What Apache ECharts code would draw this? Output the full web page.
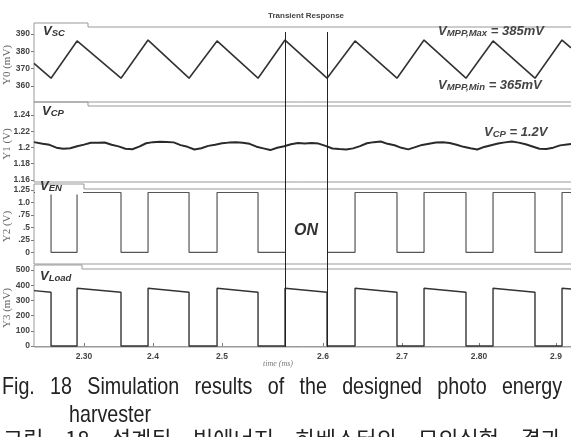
<!DOCTYPE html>
<html>
<head>
<meta charset="utf-8">
<title>Transient Response</title>
<script src="https://cdn.jsdelivr.net/npm/echarts@6/dist/echarts.min.js"></script>
<style>
body { margin: 0; background: #fff; }
#wrap { position: relative; width: 571px; height: 437px; overflow: hidden; background: #fff; }
#main { position: absolute; left: 0; top: 0; width: 571px; height: 437px; }
.cap { position: absolute; font-family: "Liberation Sans", Arial, sans-serif; font-size: 24px; line-height: 24px; color: #222; transform-origin: 0 0; }
</style>
</head>
<body>
<div id="wrap">
	<div id="main"></div>
	<div class="cap" style="left:2px; top:374px; width:683px; transform:scaleX(0.82); text-align:justify; text-align-last:justify;">Fig. 18 Simulation results of the designed photo energy</div>
	<div class="cap" style="left:69px; top:402px; transform:scaleX(0.82);">harvester</div>
	<div class="cap" style="left:3px; top:425px; width:558px; font-family:'Noto Sans CJK KR', sans-serif; font-size:22px; text-align:justify; text-align-last:justify;">그림 18 설계된 빛에너지 하베스터의 모의실험 결과</div>
</div>
<script type="text/javascript">
// 시간축 (ms)
var xMin = 2.2275, xMax = 3.0058;
var xTickPos = [2.30, 2.40, 2.50, 2.6464, 2.7609, 2.8725, 2.9841];
var xTickText = ['2.30', '2.4', '2.5', '2.6', '2.7', '2.80', '2.9'];

// 패널별 눈금
var y0Ticks = [360, 370, 380, 390];
var y0Text = ['360', '370', '380', '390'];
var y1Ticks = [1.16, 1.18, 1.2, 1.22, 1.24];
var y1Text = ['1.16', '1.18', '1.2', '1.22', '1.24'];
var y2Ticks = [0, 0.25, 0.5, 0.75, 1.0, 1.25];
var y2Text = ['0', '.25', '.5', '.75', '1.0', '1.25'];
var y3Ticks = [0, 100, 200, 300, 400, 500];
var y3Text = ['0', '100', '200', '300', '400', '500'];

// Vsc (mV)
var vscTime = [2.2275, 2.2522, 2.2899, 2.3536, 2.3928, 2.4522, 2.4928, 2.5522, 2.5913, 2.6522, 2.6928, 2.7536, 2.7928, 2.8536, 2.8928, 2.9536, 2.9928, 3.0058];
var vscMv = [373, 364.5, 386, 364.5, 386.5, 364.5, 386, 364.5, 386.5, 364.5, 386, 364.5, 386.5, 364.5, 386, 364.5, 386.5, 382];

// Vcp (V)
var vcpTime = [2.2275, 2.23, 2.24, 2.25, 2.26, 2.27, 2.28, 2.29, 2.30, 2.31, 2.32,
	2.33, 2.34, 2.35, 2.36, 2.37, 2.38, 2.39, 2.40, 2.41, 2.42,
	2.43, 2.44, 2.45, 2.46, 2.47, 2.48, 2.49, 2.50, 2.51, 2.52,
	2.53, 2.54, 2.55, 2.56, 2.57, 2.58, 2.59, 2.60, 2.61, 2.62,
	2.63, 2.64, 2.65, 2.66, 2.67, 2.68, 2.69, 2.70, 2.71, 2.72,
	2.73, 2.74, 2.75, 2.76, 2.77, 2.78, 2.79, 2.80, 2.81, 2.82,
	2.83, 2.84, 2.85, 2.86, 2.87, 2.88, 2.89, 2.90, 2.91, 2.92,
	2.93, 2.94, 2.95, 2.96, 2.97, 2.98, 2.99, 3.00, 3.0058];
var vcpV = [1.2066, 1.2063, 1.2046, 1.2033, 1.1998, 1.1984, 1.1991, 1.2015, 1.2035, 1.2058, 1.2057,
	1.2062, 1.2034, 1.2014, 1.1985, 1.1979, 1.2010, 1.2052, 1.2066, 1.2072, 1.2068,
	1.2063, 1.2029, 1.2008, 1.1976, 1.1990, 1.2020, 1.2035, 1.2051, 1.2060, 1.2066,
	1.2059, 1.2045, 1.2010, 1.1989, 1.1968, 1.1996, 1.2016, 1.2040, 1.2054, 1.2049,
	1.2055, 1.2048, 1.2020, 1.1988, 1.1980, 1.1976, 1.1989, 1.2017, 1.2052, 1.2066,
	1.2073, 1.2045, 1.2027, 1.1996, 1.1977, 1.2004, 1.2032, 1.2047, 1.2061, 1.2065,
	1.2056, 1.2034, 1.2008, 1.1990, 1.1975, 1.2007, 1.2028, 1.2049, 1.2063, 1.2073,
	1.2060, 1.2039, 1.2012, 1.1985, 1.1982, 1.1998, 1.2026, 1.2037, 1.2043];

// Ven (V) - '-' = 구간 비어 있음 (ON)
var venTime = [2.2275, 2.2522, 2.2522, 2.2899, 2.2899, 2.3536, 2.3536, 2.3928, 2.3928, 2.4522, 2.4522, 2.4928, 2.4928, 2.5522, 2.5522, 2.5913, 2.6200,
	2.6522, 2.6928, 2.6928, 2.7536, 2.7536, 2.7928, 2.7928, 2.8536, 2.8536, 2.8928, 2.8928, 2.9536, 2.9536, 2.9928, 2.9928, 3.0058];
var venV = [1.2, 1.2, 0, 0, 1.2, 1.2, 0, 0, 1.2, 1.2, 0, 0, 1.2, 1.2, 0, 0, '-',
	0, 0, 1.2, 1.2, 0, 0, 1.2, 1.2, 0, 0, 1.2, 1.2, 0, 0, 1.2, 1.2];

// Vload (mV)
var vloadTime = [2.2275, 2.2522, 2.2522, 2.2899, 2.2899, 2.3536, 2.3536, 2.3928, 2.3928, 2.4522, 2.4522, 2.4928, 2.4928, 2.5522, 2.5522, 2.5913, 2.5913,
	2.6522, 2.6522, 2.6928, 2.6928, 2.7536, 2.7536, 2.7928, 2.7928, 2.8536, 2.8536, 2.8928, 2.8928, 2.9536, 2.9536, 2.9928, 2.9928, 3.0058];
var vloadMv = [364, 354, 0, 0, 380, 354, 0, 0, 380, 354, 0, 0, 380, 354, 0, 0, 380,
	354, 0, 0, 380, 354, 0, 0, 380, 354, 0, 0, 380, 354, 0, 0, 380, 375];

// 커서 위치 (ms)
var cursorTime = [2.5913, 2.6522];

function pairs(t, v) {
	var out = [];
	for (var i = 0; i < t.length; i++) out.push([t[i], v[i]]);
	return out;
}
function lookup(ticks, texts) {
	return function (v) {
		for (var i = 0; i < ticks.length; i++) {
			if (Math.abs(ticks[i] - v) < 1e-6) return texts[i];
		}
		return '';
	};
}
var labelFont = { fontSize: 8.5, fontWeight: 'bold', color: '#444', fontFamily: 'Liberation Sans' };
function yAxisCfg(gi, min, max, ticks, texts, name) {
	return {
		type: 'value', gridIndex: gi, min: min, max: max,
		name: name, nameLocation: 'middle', nameGap: 21, nameRotate: 90, nameMoveOverlap: false,
		nameTextStyle: { fontFamily: 'Liberation Serif', fontSize: 11, color: '#666' },
		axisLine: { show: false }, splitLine: { show: false },
		axisTick: { show: true, customValues: ticks, length: 3, lineStyle: { color: '#777' } },
		axisLabel: Object.assign({ customValues: ticks, formatter: lookup(ticks, texts), margin: 4 }, labelFont)
	};
}
function xAxisCfg(gi, show) {
	return {
		type: 'value', gridIndex: gi, min: xMin, max: xMax, show: show,
		axisLine: { show: true, lineStyle: { color: '#999' } },
		splitLine: { show: false },
		axisTick: { show: true, inside: true, length: 3, customValues: xTickPos, lineStyle: { color: '#777' } },
		axisLabel: Object.assign({ customValues: xTickPos, formatter: lookup(xTickPos, xTickText), margin: 5 }, labelFont)
	};
}
function lineSeries(gi, data, color, width) {
	return {
		type: 'line', xAxisIndex: gi, yAxisIndex: gi, data: data,
		showSymbol: false, symbol: 'none', connectNulls: false,
		lineStyle: { color: color, width: width }
	};
}
function gridCfg(top, height) {
	return { left: 34, right: 0, top: top, height: height, containLabel: false, outerBoundsMode: 'none' };
}

var myChart = echarts.init(document.getElementById('main'));
myChart.setOption({
	animation: false,
	title: {
		text: 'Transient Response', left: 263, top: 7,
		textStyle: { fontSize: 8, fontWeight: 'bold', color: '#444', fontFamily: 'Liberation Sans' }
	},
	grid: [gridCfg(27, 76), gridCfg(106, 76), gridCfg(189, 75), gridCfg(269, 78)],
	xAxis: [xAxisCfg(0, false), xAxisCfg(1, false), xAxisCfg(2, false), xAxisCfg(3, true)],
	yAxis: [
		yAxisCfg(0, 350.19, 394.04, y0Ticks, y0Text, 'Y0 (mV)'),
		yAxisCfg(1, 1.1575, 1.2511, y1Ticks, y1Text, 'Y1 (V)'),
		yAxisCfg(2, -0.2348, 1.2701, y2Ticks, y2Text, 'Y2 (V)'),
		yAxisCfg(3, -6.6, 506.6, y3Ticks, y3Text, 'Y3 (mV)')
	],
	series: [
		lineSeries(0, pairs(vscTime, vscMv), '#333', 1.6),
		lineSeries(1, pairs(vcpTime, vcpV), '#2a2a2a', 2),
		lineSeries(2, pairs(venTime, venV), '#555', 1.2),
		lineSeries(3, pairs(vloadTime, vloadMv), '#333', 1.4)
	]
});

// 패널 테두리와 라벨
var panels = [
	{ tab: 23, top: 27, bottom: 102, tabRight: 88 },
	{ tab: 102, top: 106, bottom: 182, tabRight: 88 },
	{ tab: 184, top: 189, bottom: 264, tabRight: 84 },
	{ tab: 265, top: 269, bottom: 347, tabRight: 82 }
];
var graphics = [];
panels.forEach(function (p) {
	graphics.push({
		type: 'polyline', z: 1, silent: true,
		shape: { points: [[34, p.bottom], [34, p.tab], [p.tabRight, p.tab], [p.tabRight, p.top], [571, p.top]] },
		style: { stroke: '#999', lineWidth: 1, fill: null }
	});
	graphics.push({
		type: 'line', z: 1, silent: true,
		shape: { x1: 34, y1: p.bottom, x2: 571, y2: p.bottom },
		style: { stroke: '#999', lineWidth: 1 }
	});
});
// VEN 라벨 뒤 흰 바탕
graphics.push({ type: 'rect', z: 90, shape: { x: 35, y: 189.5, width: 48, height: 5 }, style: { fill: '#fff' } });

var big = { fontSize: 13, fontWeight: 'bold', fontStyle: 'italic', fontFamily: 'Liberation Sans', fill: '#333', verticalAlign: 'bottom' };
var sub = { fontSize: 9.5, fontWeight: 'bold', fontStyle: 'italic', fontFamily: 'Liberation Sans', fill: '#333', verticalAlign: 'bottom' };
var bigG = Object.assign({}, big, { fill: '#444' });
var subG = Object.assign({}, sub, { fill: '#444' });
function richLabel(x, y, text, rich) {
	return { type: 'text', z: 100, x: x, y: y, style: { text: text, rich: rich, align: 'left', verticalAlign: 'bottom' } };
}
graphics.push(richLabel(43, 38, '{v|V}{s|SC}', { v: big, s: sub }));
graphics.push(richLabel(42, 118, '{v|V}{s|CP}', { v: big, s: sub }));
graphics.push(richLabel(40, 193, '{v|V}{s|EN}', { v: big, s: sub }));
graphics.push(richLabel(40, 283, '{v|V}{s|Load}', { v: big, s: sub }));
graphics.push(richLabel(438, 38, '{v|V}{s|MPP,Max}{v| = 385mV}', { v: bigG, s: subG }));
graphics.push(richLabel(438, 92, '{v|V}{s|MPP,Min}{v| = 365mV}', { v: bigG, s: subG }));
graphics.push(richLabel(484, 139, '{v|V}{s|CP}{v| = 1.2V}', { v: bigG, s: subG }));
graphics.push({
	type: 'text', z: 100, x: 294, y: 239,
	style: { text: 'ON', fontSize: 16, fontWeight: 'bold', fontStyle: 'italic', fontFamily: 'Liberation Sans', fill: '#333', verticalAlign: 'bottom' }
});
graphics.push({
	type: 'text', z: 100, x: 278, y: 364,
	style: { text: 'time (ms)', fontSize: 8, fontStyle: 'italic', fontFamily: 'Liberation Serif', fill: '#777', align: 'center', verticalAlign: 'middle' }
});
// 커서 세로선
cursorTime.forEach(function (t) {
	var px = Math.round(myChart.convertToPixel({ xAxisIndex: 3 }, t)) + 0.5;
	graphics.push({
		type: 'line', z: 80, silent: true,
		shape: { x1: px, y1: 32, x2: px, y2: 347 },
		style: { stroke: '#222', lineWidth: 1 }
	});
});
myChart.setOption({ graphic: graphics });
</script>
</body>
</html>
